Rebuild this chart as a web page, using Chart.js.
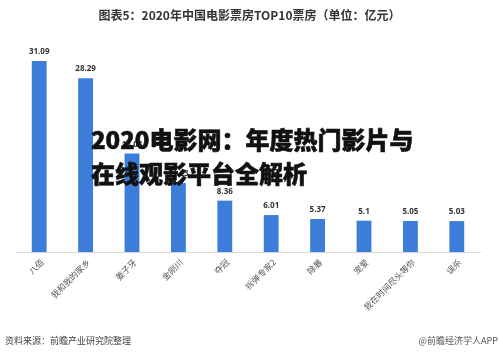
<!DOCTYPE html>
<html><head><meta charset="utf-8">
<script src="https://cdn.jsdelivr.net/npm/chart.js@4/dist/chart.umd.min.js"></script>
<style>
html,body{margin:0;padding:0;background:#fff;}
#wrap{position:relative;width:499px;height:356px;overflow:hidden;font-family:"Noto Sans CJK SC","Noto Sans",sans-serif;}
#c{position:absolute;left:0;top:0;}
.t{position:absolute;white-space:nowrap;}
#title{left:0;width:499px;top:6px;text-align:center;font-size:12px;font-weight:bold;color:#333;}
#ov1,#ov2{left:91px;font-size:24px;font-weight:900;color:#111;line-height:1;-webkit-text-stroke:0.6px #111;}
#ov1{top:127px;} #ov2{top:161px;}
#src{left:5px;top:334px;font-size:9px;color:#444;}
#app{right:1px;top:334px;font-size:9px;color:#555;}
</style></head><body>
<div id="wrap">
<canvas id="c" width="499" height="356"></canvas>
<div class="t" id="title">图表5：2020年中国电影票房TOP10票房（单位：亿元）</div>
<div class="t" id="ov1">2020电影网：年度热门影片与</div>
<div class="t" id="ov2">在线观影平台全解析</div>
<div class="t" id="src">资料来源：前瞻产业研究院整理</div>
<div class="t" id="app">@前瞻经济学人APP</div>
</div>
<script>
const categories = ["八佰","我和我的家乡","姜子牙","金刚川","夺冠","拆弹专家2","除暴","宠爱","我在时间尽头等你","误杀"];
const boxOffice = [31.09, 28.29, 16.03, 11.23, 8.36, 6.01, 5.37, 5.1, 5.05, 5.03];
const valueLabels = ["31.09","28.29","16.03","11.23","8.36","6.01","5.37","5.1","5.05","5.03"];

const labelPlugin = {
  id: 'vlabels',
  afterDatasetsDraw(chart) {
    const ctx = chart.ctx;
    const meta = chart.getDatasetMeta(0);
    ctx.save();
    ctx.font = 'bold 8px "Open Sans", "Noto Sans", sans-serif';
    ctx.fillStyle = '#333';
    ctx.textAlign = 'center';
    ctx.textBaseline = 'bottom';
    meta.data.forEach((bar, i) => {
      ctx.fillText(valueLabels[i], bar.x, bar.y - 5);
    });
    ctx.restore();
  }
};

new Chart(document.getElementById('c'), {
  type: 'bar',
  data: {
    labels: categories,
    datasets: [{
      data: boxOffice,
      backgroundColor: '#3b7dd8',
      barPercentage: 0.64,
      categoryPercentage: 0.5
    }]
  },
  options: {
    responsive: false,
    animation: false,
    layout: { padding: { top: 37, bottom: 44, left: 16, right: 19 } },
    plugins: { legend: { display: false }, title: { display: false }, tooltip: { enabled: false } },
    scales: {
      x: {
        grid: { display: false, drawTicks: false },
        border: { color: '#d9d9d9', width: 1 },
        ticks: {
          minRotation: 45, maxRotation: 45, autoSkip: false, padding: 5, labelOffset: 3,
          color: '#555', font: { size: 8.5, family: '"Noto Sans CJK SC", sans-serif' }
        },
        afterFit(scale) { scale.height = 60; scale.paddingLeft = 0; scale.paddingRight = 0; }
      },
      y: { display: false, min: 0, max: 35 }
    }
  },
  plugins: [labelPlugin]
});
</script>
</body></html>
